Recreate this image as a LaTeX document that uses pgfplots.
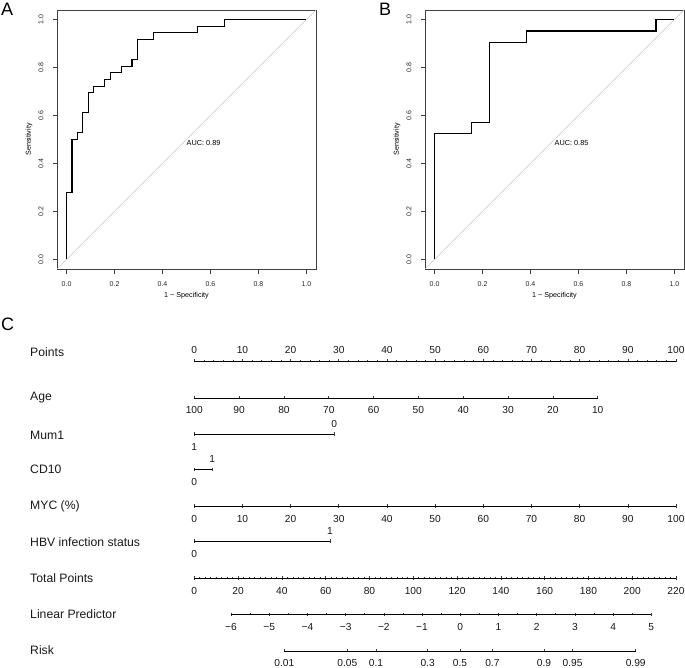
\documentclass[border=0pt]{standalone}
\usepackage{fontspec}
\setmainfont{Liberation Sans}
\usepackage{pgfplots}
\pgfplotsset{compat=1.18}
\pgfplotsset{
  rocstyle/.style={scale only axis, width=259pt, height=259pt, anchor=south west,
    xmin=-0.04, xmax=1.04, ymin=-0.04, ymax=1.04,
    axis line style={black!75, line width=0.7pt},
    xtick={0,0.2,0.4,0.6,0.8,1}, xticklabels={0.0,0.2,0.4,0.6,0.8,1.0},
    ytick={0,0.2,0.4,0.6,0.8,1}, yticklabels={0.0,0.2,0.4,0.6,0.8,1.0},
    xtick pos=bottom, ytick pos=left,
    tick align=outside, major tick length=4.5pt,
    tick style={black!75, line width=0.6pt},
    ticklabel style={font=\fontsize{7}{8}\selectfont, text=black!85},
    yticklabel style={rotate=90, anchor=south},
    xticklabel shift=5pt, yticklabel shift=5.5pt,
    xlabel={1 − Specificity}, ylabel={Sensitivity},
    label style={font=\fontsize{7.2}{8}\selectfont},
    xlabel style={at={(axis description cs:0.5,-0.104)}, anchor=center},
    ylabel style={at={(axis description cs:-0.108,0.5)}, anchor=center},
  },
  nomo/.style={scale only axis, height=1pt, ymin=0, ymax=1, axis y line=none,
    tick align=outside, major tick length=3.3pt, minor tick length=1.8pt,
    tick style={black!78, line width=0.65pt},
    ticklabel style={font=\fontsize{10.2}{12}\selectfont, text=black!90, inner sep=1pt},
    /pgf/number format/assume math mode=true},
  nb/.style={nomo, axis x line=bottom, anchor=south west,
    axis line style={-, black!78, line width=0.65pt},
    every outer x axis line/.style={-}, xticklabel shift=6.2pt},
  nt/.style={nomo, axis x line=top, anchor=north west,
    axis line style={-, black!78, line width=0.65pt},
    every outer x axis line/.style={-}, xticklabel shift=3.9pt},
}
\tikzset{rowlab/.style={anchor=base west, font=\fontsize{12.2}{14}\selectfont, text=black!90}}
\begin{document}
\begin{tikzpicture}[x=1pt,y=1pt]
\useasboundingbox (0pt,0pt) rectangle (685pt,-667pt);

% ---------- Panel A ----------
\begin{axis}[rocstyle, at={(57pt,-269pt)}]
\addplot[black!22, line width=0.6pt] coordinates {(-0.04,-0.04)(1.04,1.04)};
\addplot[black, line width=1.1pt] table[x expr=\thisrowno{0}/44, y expr=\thisrowno{1}/36, row sep=\\] {
0 0\\ 0 10\\ 1 10\\ 1 18\\ 2 18\\ 2 19\\ 3 19\\ 3 22\\ 4 22\\ 4 25\\ 5 25\\ 5 26\\ 7 26\\ 7 27\\
8 27\\ 8 28\\ 10 28\\ 10 29\\ 12 29\\ 12 30\\ 13 30\\ 13 33\\ 16 33\\ 16 34\\ 24 34\\ 24 35\\
29 35\\ 29 36\\ 44 36\\
};
\node[anchor=west, font=\fontsize{7.3}{8}\selectfont, inner sep=0pt] at (axis cs:0.5,0.487) {AUC: 0.89};
\end{axis}

% ---------- Panel B ----------
\begin{axis}[rocstyle, at={(425pt,-269pt)}]
\addplot[black!22, line width=0.6pt] coordinates {(-0.04,-0.04)(1.04,1.04)};
\addplot[black, line width=1.1pt] table[x expr=\thisrowno{0}/13, y expr=\thisrowno{1}/21, row sep=\\] {
0 0\\ 0 11\\ 2 11\\ 2 12\\ 3 12\\ 3 19\\ 5 19\\ 5 20\\ 12 20\\ 12 21\\ 13 21\\
};
\node[anchor=west, font=\fontsize{7.3}{8}\selectfont, inner sep=0pt] at (axis cs:0.5,0.487) {AUC: 0.85};
\end{axis}

\node[anchor=base west, font=\fontsize{18}{20}\selectfont, inner sep=0pt] at (1pt,-15.5pt) {A};
\node[anchor=base west, font=\fontsize{18}{20}\selectfont, inner sep=0pt] at (379pt,-15.5pt) {B};
\node[anchor=base west, font=\fontsize{18}{20}\selectfont, inner sep=0pt] at (1pt,-330pt) {C};

% ---------- Nomogram ----------
% Points
\begin{axis}[nt, at={(194.3pt,-360.7pt)}, width=481.7pt, xmin=0, xmax=100,
  xtick={0,10,...,100}, minor tick num=4]
\end{axis}
% Age
\begin{axis}[nb, at={(194.3pt,-397.7pt)}, width=403.4pt, xmin=10, xmax=100, x dir=reverse,
  xtick={10,20,...,100}]
\end{axis}
% Mum1
\begin{axis}[nb, at={(194.3pt,-434pt)}, width=140pt, xmin=0, xmax=1, x dir=reverse,
  xtick={1}, xticklabels={1}]
\end{axis}
\begin{axis}[nt, at={(194.3pt,-434pt)}, width=140pt, xmin=0, xmax=1, x dir=reverse,
  xtick={0}, xticklabels={0}]
\end{axis}
% CD10
\begin{axis}[nb, at={(194.3pt,-469.5pt)}, width=18pt, xmin=0, xmax=1,
  xtick={0}, xticklabels={0}]
\end{axis}
\begin{axis}[nt, at={(194.3pt,-469.5pt)}, width=18pt, xmin=0, xmax=1,
  xtick={1}, xticklabels={1}]
\end{axis}
% MYC
\begin{axis}[nb, at={(194.3pt,-506pt)}, width=481.7pt, xmin=0, xmax=100,
  xtick={0,10,...,100}]
\end{axis}
% HBV
\begin{axis}[nb, at={(194.3pt,-541pt)}, width=135.7pt, xmin=0, xmax=1,
  xtick={0}, xticklabels={0}]
\end{axis}
\begin{axis}[nt, at={(194.3pt,-541pt)}, width=135.7pt, xmin=0, xmax=1,
  xtick={1}, xticklabels={1}]
\end{axis}
% Total points
\begin{axis}[nb, at={(194.3pt,-578pt)}, width=481.7pt, xmin=0, xmax=220,
  xtick={0,20,...,220}, minor tick num=7]
\end{axis}
% Linear predictor
\begin{axis}[nb, at={(231pt,-614.3pt)}, width=420.3pt, xmin=-6, xmax=5,
  xtick={-6,-5,...,5}, minor tick num=1,
  xticklabels={−6,−5,−4,−3,−2,−1,0,1,2,3,4,5}]
\end{axis}
% Risk
\begin{axis}[nb, at={(284.3pt,-650.7pt)}, width=351.4pt, xmin=-4.59512, xmax=4.59512,
  xticklabel shift=5.5pt,
  xtick={-4.59512,-2.94444,-2.19722,-0.847298,0,0.847298,2.19722,2.94444,4.59512},
  xticklabels={0.01,0.05,0.1,0.3,0.5,0.7,0.9,0.95,0.99}]
\end{axis}

\node[rowlab] at (26.7pt,-356.7pt) {Points};
\node[rowlab] at (26.7pt,-400.7pt) {Age};
\node[rowlab] at (26.7pt,-439pt) {Mum1};
\node[rowlab] at (26.7pt,-473.3pt) {CD10};
\node[rowlab] at (26.7pt,-509.3pt) {MYC (\%)};
\node[rowlab] at (26.7pt,-546pt) {HBV infection status};
\node[rowlab] at (26.7pt,-582.3pt) {Total Points};
\node[rowlab] at (26.7pt,-618.3pt) {Linear Predictor};
\node[rowlab] at (26.7pt,-654.3pt) {Risk};
\end{tikzpicture}
\end{document}
